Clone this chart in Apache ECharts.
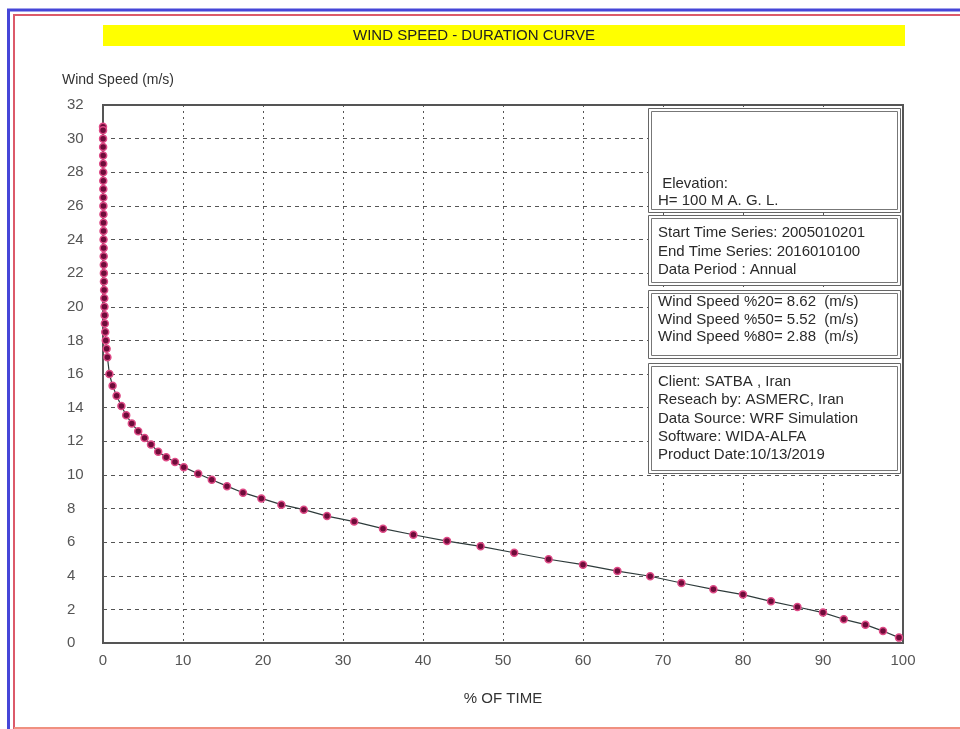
<!DOCTYPE html>
<html>
<head>
<meta charset="utf-8">
<script src="https://cdn.jsdelivr.net/npm/echarts@6/dist/echarts.min.js"></script>
<style>
  html, body { margin: 0; padding: 0; background: #fff; }
  #main { width: 960px; height: 729px; }
</style>
</head>
<body>
<div id="main"></div>
<script>
// % of time (x) and wind speed m/s (y)
const pctTime = [0, 0.005, 0.01, 0.015, 0.02, 0.025, 0.03, 0.035, 0.04, 0.045, 0.05, 0.055, 0.06, 0.065, 0.07, 0.08,
  0.09, 0.1, 0.11, 0.12, 0.14, 0.16, 0.18, 0.2, 0.23, 0.28, 0.35, 0.45, 0.55, 0.8, 1.2, 1.7, 2.3, 2.9, 3.6, 4.4,
  5.2, 6.0, 6.9, 7.9, 9.0, 10.1, 11.9, 13.6, 15.5, 17.5, 19.8, 22.3, 25.1, 28.0, 31.4, 35.0, 38.8, 43.0, 47.2,
  51.4, 55.7, 60.0, 64.3, 68.4, 72.3, 76.3, 80.0, 83.5, 86.8, 90.0, 92.6, 95.3, 97.5, 99.5]
const windSpeed = [30.7, 30.5, 30, 29.5, 29, 28.5, 28, 27.5, 27, 26.5, 26, 25.5, 25, 24.5, 24, 23.5,
  23, 22.5, 22, 21.5, 21, 20.5, 20, 19.5, 19, 18.5, 18, 17.5, 17, 16, 15.3, 14.7, 14.1, 13.55, 13.05, 12.6,
  12.2, 11.8, 11.38, 11.05, 10.76, 10.46, 10.07, 9.71, 9.33, 8.94, 8.6, 8.23, 7.93, 7.55, 7.22, 6.8, 6.44, 6.06, 5.75,
  5.37, 4.98, 4.66, 4.28, 3.97, 3.57, 3.19, 2.88, 2.48, 2.14, 1.81, 1.41, 1.09, 0.71, 0.32]

// info boxes text
const boxElevation = [' Elevation:', 'H= 100 M A. G. L.']
const boxPeriod = ['Start Time Series: 2005010201', 'End Time Series: 2016010100', 'Data Period : Annual']
const boxPercentiles = ['Wind Speed %20= 8.62  (m/s)', 'Wind Speed %50= 5.52  (m/s)', 'Wind Speed %80= 2.88  (m/s)']
const boxCredits = ['Client: SATBA , Iran', 'Reseach by: ASMERC, Iran', 'Data Source: WRF Simulation',
  'Software: WIDA-ALFA', 'Product Date:10/13/2019']

const FONT = 'Liberation Sans'
const chart = echarts.init(document.getElementById('main'))

// box with double border + lines of text
function infoBox(top, height, lines, firstY, step) {
  const els = [
    { type: 'rect', shape: { x: 648.5, y: top + 0.5, width: 252, height: height }, style: { fill: '#fff', stroke: '#666', lineWidth: 1 }, z: 100 },
    { type: 'rect', shape: { x: 651.5, y: top + 3.5, width: 246, height: height - 6 }, style: { fill: 'none', stroke: '#777', lineWidth: 1 }, z: 100 }
  ]
  lines.forEach((t, i) => {
    els.push({
      type: 'text', x: 658, y: firstY + i * step, z: 101,
      style: { text: t, fill: '#2a2a2a', font: '15px "' + FONT + '"', textVerticalAlign: 'middle' }
    })
  })
  return els
}

const option = {
  animation: false,
  backgroundColor: '#fff',
  grid: { left: 103, right: 57, top: 105, bottom: 86, show: true, borderColor: '#555', borderWidth: 2 },
  xAxis: {
    type: 'value', min: 0, max: 100, interval: 10,
    name: '% OF TIME', nameLocation: 'middle', nameGap: 48,
    nameTextStyle: { fontFamily: FONT, fontSize: 15, color: '#333' },
    axisLine: { show: true, lineStyle: { color: '#555', width: 2 } },
    axisTick: { show: false },
    axisLabel: { fontFamily: FONT, fontSize: 15, color: '#555', margin: 10 },
    splitLine: { show: true, lineStyle: { color: '#555', type: [2, 4], width: 1 } }
  },
  yAxis: {
    type: 'value', min: 0, max: 32, interval: 2,
    name: 'Wind Speed (m/s)', nameLocation: 'end', nameGap: 25,
    nameTextStyle: { fontFamily: FONT, fontSize: 14, color: '#333', align: 'left', verticalAlign: 'middle', padding: [0, 0, 0, -41] },
    axisLine: { show: true, lineStyle: { color: '#555', width: 2 } },
    axisTick: { show: false },
    axisLabel: { fontFamily: FONT, fontSize: 15, color: '#555', align: 'left', margin: 36 },
    splitLine: { show: true, lineStyle: { color: '#555', type: [4, 4], width: 1 } }
  },
  series: [{
    type: 'line',
    data: pctTime.map((p, i) => [p, windSpeed[i]]),
    symbol: 'circle',
    symbolSize: 7,
    itemStyle: { color: '#6e0c3a', borderColor: '#de4a86', borderWidth: 1.5 },
    lineStyle: { color: '#2e3b3b', width: 1.2 },
    z: 5
  }],
  graphic: [
    // outer frame
    { type: 'line', shape: { x1: 7, y1: 10, x2: 960, y2: 10 }, style: { stroke: '#4646d8', lineWidth: 3 }, z: 200 },
    { type: 'line', shape: { x1: 8.5, y1: 9, x2: 8.5, y2: 729 }, style: { stroke: '#4646d8', lineWidth: 3 }, z: 200 },
    { type: 'line', shape: { x1: 13, y1: 15, x2: 960, y2: 15 }, style: { stroke: '#dc5a6a', lineWidth: 2 }, z: 200 },
    { type: 'line', shape: { x1: 14, y1: 14, x2: 14, y2: 729 }, style: { stroke: '#dc5a6a', lineWidth: 2 }, z: 200 },
    { type: 'line', shape: { x1: 14, y1: 728, x2: 960, y2: 728 }, style: { stroke: '#f09080', lineWidth: 2 }, z: 200 },
    // title bar
    { type: 'rect', shape: { x: 103, y: 25, width: 802, height: 21 }, style: { fill: '#ffff00' }, z: 100 },
    {
      type: 'text', x: 474, y: 36, z: 101,
      style: { text: 'WIND SPEED - DURATION CURVE', fill: '#222', font: '15px "' + FONT + '"', textAlign: 'center', textVerticalAlign: 'middle' }
    },
    ...infoBox(108, 104, boxElevation, 184, 16.5),
    ...infoBox(215, 70, boxPeriod, 233, 18.5),
    ...infoBox(290, 68, boxPercentiles, 302, 17.5),
    ...infoBox(363, 110, boxCredits, 382, 18.3)
  ]
}

chart.setOption(option)
</script>
</body>
</html>
